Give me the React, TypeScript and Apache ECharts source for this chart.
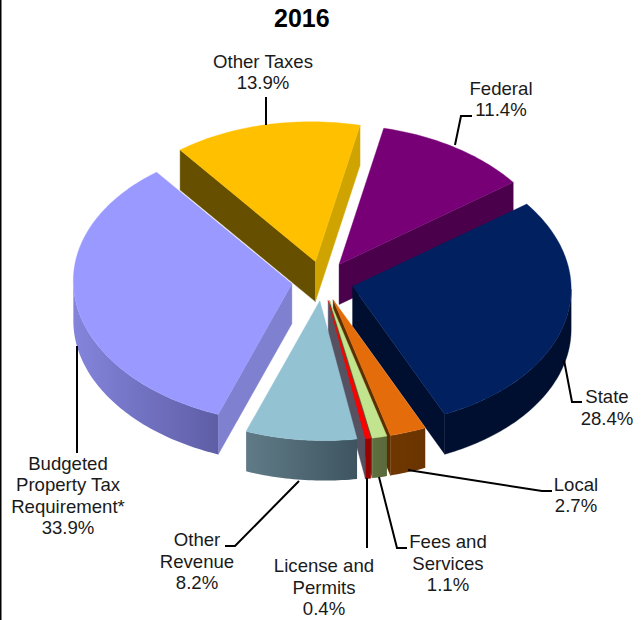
import React, { useEffect, useRef } from "react";
import * as echarts from "echarts";

const titleText = "2016";
const sliceNames = [
  "Federal",
  "State",
  "Local",
  "Fees and\nServices",
  "License and\nPermits",
  "Other\nRevenue",
  "Budgeted\nProperty Tax\nRequirement*",
  "Other Taxes",
];
const sliceValues = [11.4, 28.4, 2.7, 1.1, 0.4, 8.2, 33.9, 13.9];
const topColors = ["#770077", "#002060", "#E46C0A", "#C3E48E", "#FF0000", "#93C2D3", "#9999FF", "#FFC000"];
const rimColors: string[][] = [
  ["#4A004A", "#4A004A"],
  ["#000F30", "#000F30"],
  ["#703700", "#6A3400"],
  ["#5F6F3F", "#5A693A"],
  ["#990000", "#990000"],
  ["#607B87", "#3E5561"],
  ["#8484DC", "#5E5EA6"],
  ["#665000", "#665000"],
];
const startWallColors = ["#4A004A", "#000F30", "#6E3500", "#5F6F3F", "#990000", "#5A7884", "#8080D0", "#665000"];
const endWallColors = ["#4A004A", "#000F30", "#5C2E00", "#4C5832", "#575262", "#5A7884", "#8080D0", "#CFA400"];
const drawOrder = [7, 0, 6, 1, 2, 3, 4, 5];

const labelAnchors: number[][] = [
  [501, 99],
  [607, 407.5],
  [576, 495],
  [448, 563],
  [324, 587],
  [197, 561],
  [68, 495.5],
  [263, 72],
];
const leaderLines: number[][][] = [
  [[472, 116], [461, 116], [455, 145]],
  [[564, 360], [572, 402], [582, 402]],
  [[408, 470], [542, 491], [552, 491]],
  [[379, 477], [397, 548], [407, 548]],
  [[367, 478], [367, 548]],
  [[299, 481], [235, 546], [225, 546]],
  [[77, 346], [77, 453]],
  [[266, 97], [266, 125]],
];

const CX = 322.5;
const CY = 281;
const R = 218.5;
const TILT = 0.64;
const SHEAR = 0.033;
const EXPLODE = 31;
const DEPTH = 40;
const START_ANGLE = 13;
const FONT = '18.6px "Liberation Sans", Arial, sans-serif';

const rad = (d: number) => (d * Math.PI) / 180;
const project = (x: number, y: number): number[] => [x + SHEAR * (y - CY), y];
const down = (p: number[]) => [p[0], p[1] + DEPTH];

function sliceRange(i: number): number[] {
  const total = sliceValues.reduce((a, b) => a + b, 0);
  let a = START_ANGLE;
  for (let k = 0; k < i; k++) a += (sliceValues[k] / total) * 360;
  return [a, a + (sliceValues[i] / total) * 360];
}

function renderSlice(_params: any, api: any) {
  const i = api.value(1);
  const [a0, a1] = sliceRange(i);
  const mid = rad((a0 + a1) / 2);
  const ox = CX + EXPLODE * Math.sin(mid);
  const oy = CY - EXPLODE * TILT * Math.cos(mid);
  const rim = (deg: number) =>
    project(ox + R * Math.sin(rad(deg)), oy - R * TILT * Math.cos(rad(deg)));
  const apex = project(ox, oy);
  const arc = (from: number, to: number) => {
    const n = Math.max(2, Math.ceil(to - from));
    const pts: number[][] = [];
    for (let k = 0; k <= n; k++) pts.push(rim(from + ((to - from) * k) / n));
    return pts;
  };
  const poly = (points: number[][], fill: any) => ({
    type: "polygon",
    shape: { points },
    style: { fill, stroke: typeof fill === "string" ? fill : "none", lineWidth: 0.4 },
  });
  const children: any[] = [];
  const visOffset = (Math.atan(SHEAR * TILT) * 180) / Math.PI;
  const s0 = a0 % 360;
  const s1 = a1 % 360;
  if (Math.sin(rad(s0)) < 0) {
    const p = rim(a0);
    children.push(poly([apex, p, down(p), down(apex)], startWallColors[i]));
  }
  if (Math.sin(rad(s1)) > 0) {
    const p = rim(a1);
    children.push(poly([apex, p, down(p), down(apex)], endWallColors[i]));
  }
  const from = Math.max(a0, 90 + visOffset);
  const to = Math.min(a1, 270 + visOffset);
  if (to > from) {
    const top = arc(from, to);
    const flat = rimColors[i][0] === rimColors[i][1];
    children.push(
      poly(
        [...top, ...top.slice().reverse().map(down)],
        flat
          ? rimColors[i][0]
          : {
              type: "linear",
              x: 0,
              y: 0,
              x2: 1,
              y2: 0,
              colorStops: [
                { offset: 0, color: rimColors[i][0] },
                { offset: 1, color: rimColors[i][1] },
              ],
            }
      )
    );
  }
  children.push(poly([apex, ...arc(a0, a1)], topColors[i]));
  return { type: "group", children };
}

export default function App() {
  const ref = useRef<HTMLDivElement | null>(null);
  useEffect(() => {
    document.body.style.margin = "0";
    const chart = echarts.init(ref.current!, null, { renderer: "svg" });
    const graphics: any[] = [
      { type: "rect", shape: { x: 0, y: 0, width: 1.5, height: 620 }, style: { fill: "#000" }, z: 10 },
    ];
    sliceNames.forEach((name, i) => {
      graphics.push({
        type: "polyline",
        shape: { points: leaderLines[i] },
        style: { stroke: "#000", lineWidth: 2, fill: "none" },
        z: 10,
      });
      graphics.push({
        type: "text",
        x: labelAnchors[i][0],
        y: labelAnchors[i][1],
        style: {
          text: `${name}\n${sliceValues[i].toFixed(1)}%`,
          font: FONT,
          lineHeight: 21.5,
          fill: "#1a1a1a",
          align: "center",
          verticalAlign: "middle",
        },
        z: 11,
      });
    });
    chart.setOption({
      animation: false,
      backgroundColor: "#fff",
      title: {
        text: titleText,
        left: 269,
        top: 0,
        textStyle: { fontFamily: '"Liberation Sans", Arial, sans-serif', fontWeight: "bold", fontSize: 25, color: "#000" },
      },
      series: [
        {
          type: "custom",
          coordinateSystem: "none",
          silent: true,
          renderItem: renderSlice,
          data: drawOrder.map((i) => ({ name: sliceNames[i], value: [sliceValues[i], i] })),
        },
      ],
      graphic: graphics,
    });
    return () => chart.dispose();
  }, []);
  return <div ref={ref} style={{ position: "fixed", left: 0, top: 0, width: 641, height: 620 }} />;
}
